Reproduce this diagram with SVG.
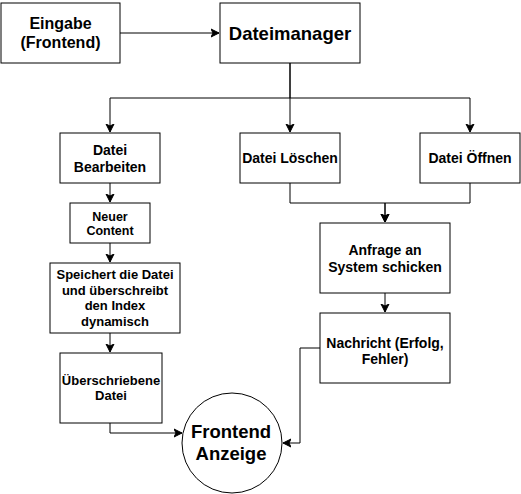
<svg xmlns="http://www.w3.org/2000/svg" width="521" height="494" viewBox="0 0 521 494">
<style>
.box{fill:#fff;stroke:#000;stroke-width:1}
.t{font-family:"Liberation Sans",Arial,sans-serif;font-weight:bold;fill:#000;text-anchor:middle}
.c{fill:none;stroke:#000;stroke-width:1;marker-end:url(#arr)}
</style>
<defs>
<marker id="arr" markerUnits="userSpaceOnUse" markerWidth="10" markerHeight="10" viewBox="0 0 10 10" refX="8" refY="5" orient="auto">
<path d="M0,1 L8,5 L0,9 L2,5 Z" fill="#000" stroke="#000" stroke-width="1"/>
</marker>
</defs>
<rect width="521" height="494" fill="#fff"/>
<g id="connectors">
<path class="c" d="M120,33 H219"/>
<path class="c" d="M290,63 V98 H110 V132"/>
<path class="c" d="M290,63 V132"/>
<path class="c" d="M290,98 H470 V132"/>
<path class="c" d="M110,183 V202"/>
<path class="c" d="M110,243 V262"/>
<path class="c" d="M110,333 V352"/>
<path class="c" d="M110,423 V433 H182"/>
<path class="c" d="M290,183 V203 H385 V222"/>
<path class="c" d="M470,183 V203 H385 V222"/>
<path class="c" d="M385,293 V312"/>
<path class="c" d="M320,348 H300 V443 H283"/>
</g>
<g id="eingabe">
<rect class="box" x="1" y="3" width="119" height="60"/>
<text class="t" font-size="16" x="60.5" y="29">Eingabe</text>
<text class="t" font-size="16" x="60.5" y="48">(Frontend)</text>
</g>
<g id="dateimanager">
<rect class="box" x="220" y="3" width="140" height="60"/>
<text class="t" font-size="18.5" x="290" y="39.5">Dateimanager</text>
</g>
<g id="bearbeiten">
<rect class="box" x="60" y="133" width="100" height="50"/>
<text class="t" font-size="14" x="110" y="155">Datei</text>
<text class="t" font-size="14" x="110" y="171.5">Bearbeiten</text>
</g>
<g id="loeschen">
<rect class="box" x="240" y="133" width="100" height="50"/>
<text class="t" font-size="14" x="290" y="163">Datei Löschen</text>
</g>
<g id="oeffnen">
<rect class="box" x="420" y="133" width="100" height="50"/>
<text class="t" font-size="14" x="470" y="163">Datei Öffnen</text>
</g>
<g id="neuer-content">
<rect class="box" x="70" y="203" width="80" height="40"/>
<text class="t" font-size="12.5" x="110" y="221">Neuer</text>
<text class="t" font-size="12.5" x="110" y="235">Content</text>
</g>
<g id="speichert">
<rect class="box" x="50" y="263" width="130" height="70"/>
<text class="t" font-size="13" x="115" y="279">Speichert die Datei</text>
<text class="t" font-size="13" x="115" y="294.5">und überschreibt</text>
<text class="t" font-size="13" x="115" y="310">den Index</text>
<text class="t" font-size="13" x="115" y="325.5">dynamisch</text>
</g>
<g id="ueberschriebene">
<rect class="box" x="60" y="353" width="102" height="70"/>
<text class="t" font-size="13" x="111" y="385">Überschriebene</text>
<text class="t" font-size="13" x="111" y="400">Datei</text>
</g>
<g id="anfrage">
<rect class="box" x="320" y="223" width="130" height="70"/>
<text class="t" font-size="14" x="385" y="254.5">Anfrage an</text>
<text class="t" font-size="14" x="385" y="271.5">System schicken</text>
</g>
<g id="nachricht">
<rect class="box" x="320" y="313" width="130" height="70"/>
<text class="t" font-size="14" x="385" y="347.5">Nachricht (Erfolg,</text>
<text class="t" font-size="14" x="385" y="364">Fehler)</text>
</g>
<g id="frontend-anzeige">
<circle class="box" cx="232" cy="443" r="50"/>
<text class="t" font-size="18.5" x="231" y="438">Frontend</text>
<text class="t" font-size="18.5" x="231" y="460">Anzeige</text>
</g>
</svg>
